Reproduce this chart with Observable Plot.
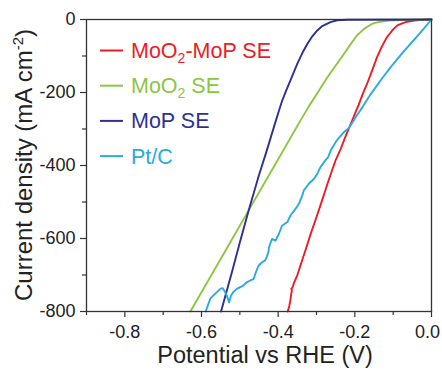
<!DOCTYPE html>
<html><head><meta charset="utf-8">
<script src="https://cdn.jsdelivr.net/npm/d3@7"></script>
<script src="https://cdn.jsdelivr.net/npm/@observablehq/plot@0.6"></script>
<style>body{margin:0;background:#fff}</style>
</head><body><div id="chart"></div>
<script>
const seriesNames = ["MoO2-MoP SE", "MoO2 SE", "MoP SE", "Pt/C"];
const seriesColors = ["#ed1c24", "#8dc63f", "#2e3192", "#29abe2"];

const redX = [-0.375,-0.371,-0.368,-0.366,-0.364,-0.366,-0.362,-0.359,-0.350,-0.340,-0.329,-0.316,-0.300,-0.290,-0.280,-0.272,-0.260,-0.250,-0.237,-0.225,-0.215,-0.207,-0.198,-0.190,-0.180,-0.168,-0.155,-0.142,-0.130,-0.116,-0.100,-0.089,-0.075,-0.063,-0.045,-0.025,0.0];
const redY = [-800,-785,-768,-752,-742,-738,-733,-722,-700,-668,-633,-590,-541,-510,-478,-452,-415,-385,-355,-322,-297,-277,-254,-234,-206,-176,-140,-103,-75,-48,-27,-16,-10,-6,-3,-1,0];

const greenX = [-0.629,-0.55,-0.477,-0.40,-0.342,-0.320,-0.298,-0.280,-0.2635,-0.245,-0.229,-0.210,-0.194,-0.175,-0.160,-0.150,-0.133,-0.110,-0.089,-0.05,0.0];
const greenY = [-800,-656,-523,-383,-277,-238,-202,-172,-146,-119,-95,-66,-43,-25,-15,-10,-6,-3,-2,-1,0];

const blueX = [-0.549,-0.52,-0.50,-0.477,-0.45,-0.430,-0.406,-0.398,-0.3895,-0.380,-0.368,-0.350,-0.337,-0.324,-0.311,-0.298,-0.285,-0.2635,-0.246,-0.22,0.0];
const blueY = [-800,-690,-611,-523,-426,-360,-277,-250,-222,-197,-167,-121,-92,-67,-46,-30,-18,-7,-2,-0.5,0];

const ptcX = [-0.589,-0.582,-0.577,-0.569,-0.560,-0.551,-0.545,-0.540,-0.534,-0.528,-0.523,-0.517,-0.508,-0.499,-0.491,-0.482,-0.473,-0.464,-0.458,-0.451,-0.442,-0.434,-0.430,-0.425,-0.424,-0.416,-0.407,-0.398,-0.390,-0.376,-0.368,-0.355,-0.346,-0.337,-0.333,-0.320,-0.307,-0.298,-0.290,-0.277,-0.270,-0.263,-0.255,-0.250,-0.240,-0.229,-0.216,-0.203,-0.198,-0.180,-0.159,-0.130,-0.107,-0.080,-0.055,-0.030,0.0];
const ptcY = [-800,-779,-765,-756,-747,-738,-736,-744,-756,-775,-756,-747,-738,-733,-729,-720,-715,-711,-692,-674,-665,-660,-651,-635,-624,-601,-606,-587,-565,-555,-537,-519,-505,-482,-468,-450,-437,-423,-405,-386,-378,-359,-345,-336,-322,-309,-298,-277,-268,-240,-205,-163,-131,-97,-67,-37,0];

const seriesX = [redX, greenX, blueX, ptcX];
const seriesY = [redY, greenY, blueY, ptcY];

const xTicks = [-0.8, -0.6, -0.4, -0.2, 0.0];
const xMinor = [-0.9, -0.7, -0.5, -0.3, -0.1];
const yTicks = [0, -200, -400, -600, -800];
const yMinor = [-100, -300, -500, -700];

const rows = [];
seriesX.forEach((xs, i) => xs.forEach((x, j) => rows.push({series: seriesNames[i], x, y: seriesY[i][j]})));

const font = "'Liberation Sans', Arial, sans-serif";
const axisColor = "#333";

const chart = Plot.plot({
  width: 442, height: 370,
  marginLeft: 86, marginRight: 11, marginTop: 19, marginBottom: 59,
  style: {fontFamily: font, fontSize: "18px", background: "#fff", color: "#222"},
  x: {domain: [-0.9, 0], label: null},
  y: {domain: [-800, 0], label: null},
  color: {domain: seriesNames, range: seriesColors},
  marks: [
    Plot.axisX({ticks: xMinor, tickSize: 4, tickFormat: () => "", stroke: axisColor, strokeWidth: 1.2}),
    Plot.axisX({ticks: xTicks, tickSize: 6, tickPadding: 8, tickFormat: d => d.toFixed(1), stroke: axisColor, strokeWidth: 1.2, fill: "#222"}),
    Plot.axisY({ticks: yMinor, tickSize: 4, tickFormat: () => "", stroke: axisColor, strokeWidth: 1.2}),
    Plot.axisY({ticks: yTicks, tickSize: 6, tickPadding: 5, tickFormat: d => String(d), stroke: axisColor, strokeWidth: 1.2, fill: "#222"}),
    Plot.line(rows, {x: "x", y: "y", z: "series", stroke: "series", strokeWidth: 1.9}),
    Plot.frame({stroke: axisColor, strokeWidth: 1.3})
  ]
});

const svg = d3.select(chart);

// nudge the last x tick label so it stays inside the picture
svg.selectAll("text").filter(function () { return this.textContent === "0.0"; }).attr("dx", -4);

// x axis title
svg.append("text").attr("x", 265).attr("y", 363).attr("text-anchor", "middle")
  .attr("font-family", font).attr("font-size", 23.5).attr("fill", "#222")
  .text("Potential vs RHE (V)");

// y axis title
const yt = svg.append("text").attr("transform", "translate(32,165) rotate(-90)")
  .attr("text-anchor", "middle").attr("font-family", font).attr("font-size", 24).attr("fill", "#222");
yt.append("tspan").text("Current density (mA cm");
yt.append("tspan").attr("font-size", 15).attr("dy", -9).text("-2");
yt.append("tspan").attr("dy", 9).text(")");

// legend
const legendY0 = 50.5, legendStep = 35.2;
seriesNames.forEach((name, i) => {
  const cy = legendY0 + legendStep * i;
  svg.append("line").attr("x1", 100).attr("x2", 123).attr("y1", cy).attr("y2", cy)
    .attr("stroke", seriesColors[i]).attr("stroke-width", 2);
  const t = svg.append("text").attr("x", 131).attr("y", cy + 7.5).attr("text-anchor", "start")
    .attr("font-family", font).attr("font-size", 21.5).attr("fill", seriesColors[i]);
  const m = name.match(/^(.*?O)2(.*)$/);
  if (m) {
    t.append("tspan").text(m[1]);
    t.append("tspan").attr("font-size", 14).attr("dy", 5).text("2");
    t.append("tspan").attr("dy", -5).text(m[2]);
  } else {
    t.text(name);
  }
});

document.getElementById("chart").appendChild(chart);
</script>
</body></html>
